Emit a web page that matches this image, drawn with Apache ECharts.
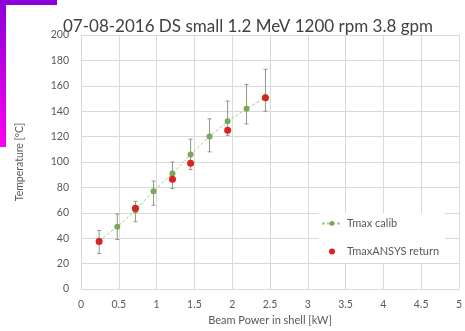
<!DOCTYPE html>
<html>
<head>
<meta charset="utf-8">
<script src="https://cdn.jsdelivr.net/npm/echarts@6/dist/echarts.min.js"></script>
<style>
  html, body { margin: 0; padding: 0; background: #fff; }
  #chart { width: 465px; height: 331px; }
</style>
</head>
<body>
<div id="chart"></div>
<script>
// beam power [kW] and max temperature [ºC]
const calibPower = [0.24, 0.48, 0.72, 0.96, 1.21, 1.45, 1.70, 1.94, 2.19, 2.44];
const calibTemp = [38, 49, 62, 77, 91, 106, 120, 132, 142, 151];
const calibLow = [28, 39, 53, 66, 79, 94, 108, 121, 130, 140];
const calibHigh = [46, 59, 69, 85, 100, 118, 134, 148, 161, 173];
const ansysPower = [0.24, 0.72, 1.21, 1.45, 1.94, 2.44];
const ansysTemp = [37.5, 63.5, 86.5, 99, 125, 150.5];

const font = 'Lato';
const grey = '#595959';

const chart = echarts.init(document.getElementById('chart'));
chart.setOption({
  animation: false,
  textStyle: { fontFamily: font },
  title: {
    text: '07-08-2016 DS small 1.2 MeV 1200 rpm 3.8 gpm',
    left: 243,
    textAlign: 'center',
    top: 13,
    textStyle: { fontSize: 17, fontWeight: 'normal', color: '#404040', fontFamily: font },
  },
  graphic: [
    {
      type: 'polygon',
      shape: { points: [[0, 0], [57, 0], [57, 5], [6, 5], [6, 147], [0, 147]] },
      style: {
        fill: new echarts.graphic.LinearGradient(0, 0, 0, 1, [
          { offset: 0, color: '#8a00d8' },
          { offset: 1, color: '#ff00f0' },
        ]),
      },
    },
  ],
  legend: {
    orient: 'vertical',
    left: 319,
    top: 213,
    itemGap: 17,
    itemWidth: 20,
    itemHeight: 6,
    backgroundColor: '#fff',
    padding: [5, 6, 6, 2],
    textStyle: { fontSize: 11, color: grey },
    data: ['Tmax calib', { name: 'TmaxANSYS return', icon: 'circle' }],
  },
  grid: { left: 81, right: 3, top: 35, bottom: 41 },
  xAxis: {
    type: 'value',
    min: 0,
    max: 5,
    interval: 0.5,
    name: 'Beam Power in shell [kW]',
    nameLocation: 'middle',
    nameGap: 26,
    nameTextStyle: { fontSize: 11, color: grey },
    axisLine: { show: true, lineStyle: { color: '#d9d9d9' } },
    axisTick: { show: false },
    axisLabel: { fontSize: 10.5, color: grey, margin: 10 },
    splitLine: { lineStyle: { color: '#d9d9d9' } },
  },
  yAxis: {
    type: 'value',
    min: 0,
    max: 200,
    interval: 20,
    name: 'Temperature [ºC]',
    nameLocation: 'middle',
    nameGap: 56,
    nameTextStyle: { fontSize: 10.5, color: grey },
    axisLine: { show: false },
    axisTick: { show: false },
    axisLabel: { fontSize: 10.5, color: grey, margin: 12 },
    splitLine: { lineStyle: { color: '#d9d9d9' } },
  },
  series: [
    {
      type: 'custom',
      name: 'err',
      z: 1,
      data: calibPower.map((x, i) => [x, calibLow[i], calibHigh[i]]),
      encode: { x: 0, y: [1, 2] },
      renderItem: function (params, api) {
        const lo = api.coord([api.value(0), api.value(1)]);
        const hi = api.coord([api.value(0), api.value(2)]);
        const st = { stroke: '#8c9a80', lineWidth: 1 };
        return {
          type: 'group',
          children: [
            { type: 'line', shape: { x1: lo[0], y1: lo[1], x2: hi[0], y2: hi[1] }, style: st },
            { type: 'line', shape: { x1: lo[0] - 2, y1: lo[1], x2: lo[0] + 2, y2: lo[1] }, style: st },
            { type: 'line', shape: { x1: hi[0] - 2, y1: hi[1], x2: hi[0] + 2, y2: hi[1] }, style: st },
          ],
        };
      },
    },
    {
      type: 'line',
      name: 'Tmax calib',
      z: 2,
      data: calibPower.map((x, i) => [x, calibTemp[i]]),
      symbol: 'circle',
      symbolSize: 6,
      itemStyle: { color: '#77a95a' },
      lineStyle: { color: '#a3cc8a', width: 1, type: [3, 2] },
    },
    {
      type: 'scatter',
      name: 'TmaxANSYS return',
      z: 3,
      data: ansysPower.map((x, i) => [x, ansysTemp[i]]),
      symbol: 'circle',
      symbolSize: 7,
      itemStyle: { color: '#d8231f', opacity: 1 },
    },
  ],
});
</script>
</body>
</html>
